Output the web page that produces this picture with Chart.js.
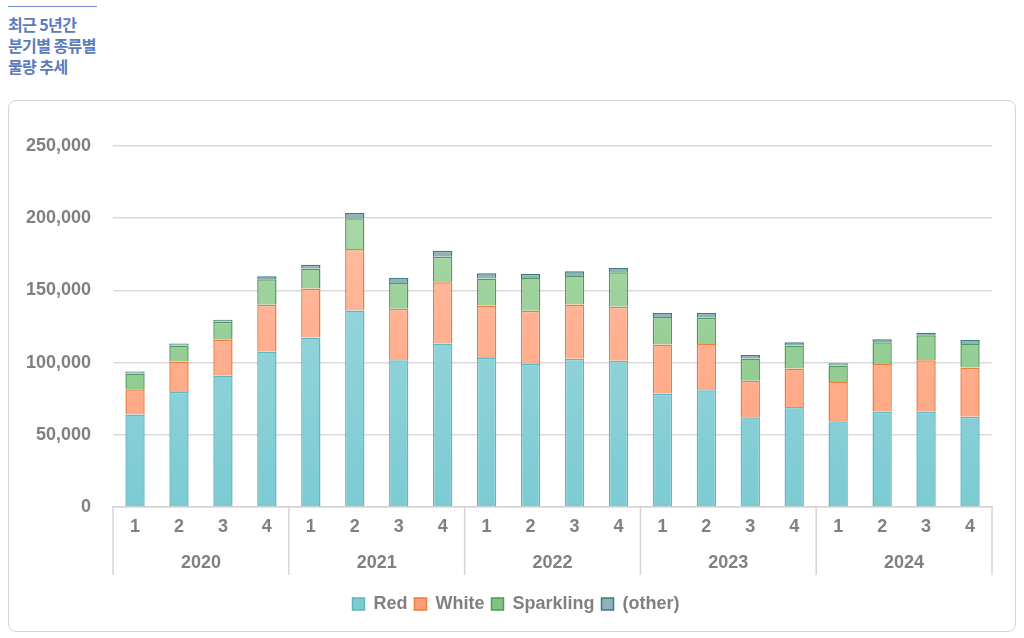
<!DOCTYPE html>
<html>
<head>
<meta charset="utf-8">
<script src="https://cdn.jsdelivr.net/npm/chart.js@4.4.1/dist/chart.umd.min.js"></script>
<style>
  html, body { margin: 0; padding: 0; background: #fff; }
  body { width: 1024px; height: 638px; position: relative; overflow: hidden; }
  .rule { position: absolute; left: 8px; top: 6px; width: 89px; height: 1px; background: #6f8cc6; }
  .title {
    position: absolute; left: 8px; top: 14px;
    font-family: "Noto Sans CJK KR", sans-serif; font-weight: 700;
    font-size: 16px; line-height: 21px; color: #5b7bbd; letter-spacing: -0.6px;
  }
  .card {
    position: absolute; left: 8px; top: 100px; width: 1006px; height: 530px;
    border: 1px solid #cfd6dc; border-radius: 8px;
  }
  .wrap { position: absolute; left: 0; top: 0; width: 1006px; height: 530px; }
</style>
</head>
<body>
<div class="rule"></div>
<div class="title">최근 5년간<br>분기별 종류별<br>물량 추세</div>
<div class="card"><div class="wrap"><canvas id="chart"></canvas></div></div>
<script>
const years = ['2020', '2021', '2022', '2023', '2024'];
const quarters = ['1', '2', '3', '4', '1', '2', '3', '4', '1', '2', '3', '4',
  '1', '2', '3', '4', '1', '2', '3', '4'];

const red = [64000, 79700, 91100, 107700, 117300, 136100, 101700, 113200, 103100, 99000,
  102600, 101200, 78500, 80800, 62200, 69300, 59400, 65900, 65900, 62500];
const white = [17500, 21100, 24800, 32300, 34000, 42500, 35600, 42400, 36200, 36900,
  37700, 37400, 34000, 32100, 25300, 26600, 27200, 33100, 35800, 34100];
const sparkling = [11000, 11000, 12400, 17700, 13800, 21300, 17900, 17700, 18900, 22700,
  19700, 23900, 19000, 18100, 15300, 15900, 11400, 15100, 17200, 16300];
const other = [1400, 1400, 1400, 2100, 2700, 3700, 3400, 4200, 3600, 3000,
  3200, 3000, 2800, 3300, 2400, 2300, 1600, 2100, 1800, 2800];

const yTicks = [0, 50000, 100000, 150000, 200000, 250000];

const labelFont = { family: '"Liberation Sans", Arial, sans-serif', size: 18, weight: 'bold' };
const gray = '#808080';

function grad(top, bottom) {
  return function (ctx) {
    const area = ctx.chart.chartArea;
    if (!area) return top;
    const g = ctx.chart.ctx.createLinearGradient(0, area.top, 0, area.bottom);
    g.addColorStop(0, top);
    g.addColorStop(1, bottom);
    return g;
  };
}

// vertical separators between the year groups, under the axis
const yearSeparators = {
  id: 'yearSeparators',
  afterDraw(chart) {
    const x = chart.scales.x, x2 = chart.scales.x2;
    const step = x2.getPixelForValue(1) - x2.getPixelForValue(0);
    const c = chart.ctx;
    c.save();
    c.strokeStyle = '#d4d4d4';
    c.lineWidth = 1.5;
    for (let i = 0; i <= years.length; i++) {
      const px = x2.getPixelForValue(0) - step / 2 + i * step;
      c.beginPath();
      c.moveTo(px, x.top);
      c.lineTo(px, x.top + 68);
      c.stroke();
    }
    c.restore();
  }
};

new Chart(document.getElementById('chart'), {
  type: 'bar',
  data: {
    labels: quarters,
    datasets: [
      { label: 'Red', data: red, backgroundColor: grad('#a8dbe0', '#7ccbd3'), borderColor: '#5cb8c3' },
      { label: 'White', data: white, backgroundColor: grad('#ffc4ac', '#ff9f78'), borderColor: '#ee7b3a' },
      { label: 'Sparkling', data: sparkling, backgroundColor: grad('#b2dcae', '#80c483'), borderColor: '#4f9c5a' },
      { label: '(other)', data: other, backgroundColor: '#8fb2ba', borderColor: '#3f7b82' }
    ]
  },
  options: {
    responsive: true,
    maintainAspectRatio: false,
    animation: false,
    datasets: {
      bar: { borderWidth: 1.5, barPercentage: 0.44, categoryPercentage: 1 }
    },
    layout: { padding: { left: 8, right: 0, top: 45, bottom: 8 } },
    plugins: {
      legend: {
        position: 'bottom',
        labels: { font: labelFont, color: gray, boxWidth: 12, boxHeight: 12, padding: 7 }
      },
      tooltip: { enabled: false }
    },
    scales: {
      x: {
        stacked: true,
        grid: { display: false, drawTicks: false },
        border: { color: '#d4d4d4', width: 1.5 },
        ticks: { font: labelFont, color: gray, padding: 9.2, maxRotation: 0, autoSkip: false }
      },
      x2: {
        type: 'category',
        labels: years,
        offset: true,
        position: 'bottom',
        grid: { display: false, drawTicks: false },
        border: { display: false },
        ticks: { font: labelFont, color: gray, padding: 5.2, maxRotation: 0, autoSkip: false },
        afterFit: axis => { axis.height += 9; }
      },
      y: {
        stacked: true,
        min: 0,
        max: 250000,
        afterBuildTicks: axis => { axis.ticks = yTicks.map(v => ({ value: v })); },
        grid: { color: '#dadada', drawTicks: false, lineWidth: 1.5 },
        border: { display: false },
        ticks: {
          font: labelFont, color: gray, padding: 22,
          callback: v => v.toLocaleString('en-US')
        },
        afterFit: axis => { axis.width -= 13; }
      },
      // empty right margin so the legend stays centred on the card
      yRight: {
        position: 'right',
        grid: { display: false, drawTicks: false },
        border: { display: false },
        ticks: { display: false },
        afterFit: axis => { axis.width = 23; }
      }
    }
  },
  plugins: [yearSeparators]
});
</script>
</body>
</html>
